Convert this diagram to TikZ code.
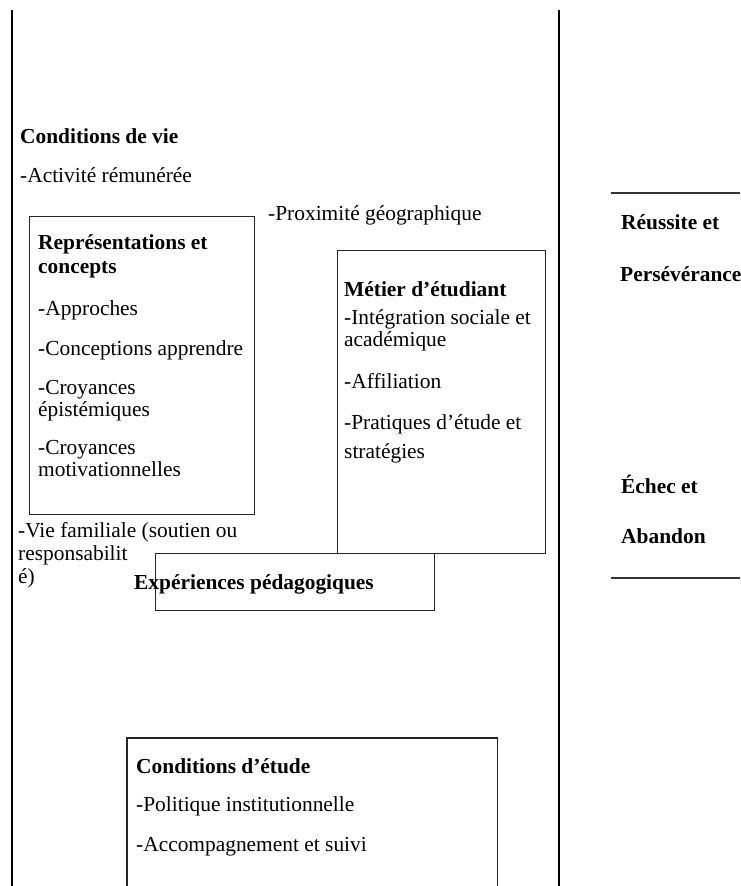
\documentclass[tikz,border=0pt]{standalone}
\usepackage{fontspec}
\setmainfont{Liberation Serif}
\begin{document}
\begin{tikzpicture}[x=1pt,y=-1pt,
  txt/.style={anchor=base west, inner sep=0pt, font=\fontsize{21.4}{20}\selectfont},
  btxt/.style={txt, font=\fontsize{21.4}{20}\selectfont\bfseries},
  boxframe/.style={draw=black!85, line width=1.2pt, inner sep=0pt, anchor=north west},
  frameline/.style={draw=black!85, line width=1.2pt},
  rule/.style={draw=black, line width=1.3pt}]
\useasboundingbox (0,0) rectangle (740,886);
% frame lines
\coordinate (lt) at (12,10); \coordinate (lb) at (12,886);
\coordinate (mt) at (559,10); \coordinate (mb) at (559,886);
\coordinate (r1a) at (611,193); \coordinate (r1b) at (740,193);
\coordinate (r2a) at (611,578); \coordinate (r2b) at (740,578);
\draw[rule, line width=2pt] (lt) -- (lb);
\draw[rule] (mt) -- (mb);
\draw[rule, draw=black!80] (r1a) -- (r1b);
\draw[rule, draw=black!80] (r2a) -- (r2b);
% boxes
\node[boxframe, minimum width=225, minimum height=298] (rep) at (29,216) {};
\node[boxframe, minimum width=208, minimum height=303] (met) at (337,250) {};
\node[boxframe, fill=white, minimum width=279, minimum height=57] (exp) at (155,553) {};
\node[inner sep=0pt, anchor=north west, minimum width=370, minimum height=148] (cde) at (127,738) {};
\draw[frameline] (cde.south west) -- (cde.north west) -- (cde.north east) -- (cde.south east);
% conditions de vie
\node[btxt] (cv) at (20,143) {Conditions de vie};
\node[txt] (cv1) at (20,182) {-Activité rémunérée};
\node[txt] (cv2) at (268,220) {-Proximité géographique};
\node[txt] (cv3a) at (18,537) {-Vie familiale (soutien ou};
\node[txt] (cv3b) at (18,560) {responsabilit};
\node[txt] (cv3c) at (18,583) {é)};
% representations
\node[btxt] (rt1) at (38,249) {Représentations et};
\node[btxt] (rt2) at (38,273) {concepts};
\node[txt] (r1) at (38,315) {-Approches};
\node[txt] (r2) at (38,355) {-Conceptions apprendre};
\node[txt] (r3a) at (38,394) {-Croyances};
\node[txt] (r3b) at (38,416) {épistémiques};
\node[txt] (r4a) at (38,454) {-Croyances};
\node[txt] (r4b) at (38,476) {motivationnelles};
% metier
\node[btxt] (mt1) at (344,296) {Métier d’étudiant};
\node[txt] (m1a) at (344,324) {-Intégration sociale et};
\node[txt] (m1b) at (344,346) {académique};
\node[txt] (m2) at (344,388) {-Affiliation};
\node[txt] (m3a) at (344,429) {-Pratiques d’étude et};
\node[txt] (m3b) at (344,458) {stratégies};
% experiences
\node[btxt] (ex) at (134,589) {Expériences pédagogiques};
% conditions d'etude
\node[btxt] (ce) at (136,773) {Conditions d’étude};
\node[txt] (ce1) at (136,811) {-Politique institutionnelle};
\node[txt] (ce2) at (136,851) {-Accompagnement et suivi};
% outcomes
\node[btxt] (o1a) at (621,229) {Réussite et};
\node[btxt] (o1b) at (620,281) {Persévérance};
\node[btxt] (o2a) at (621,493) {Échec et};
\node[btxt] (o2b) at (621,543) {Abandon};
\end{tikzpicture}
\end{document}
